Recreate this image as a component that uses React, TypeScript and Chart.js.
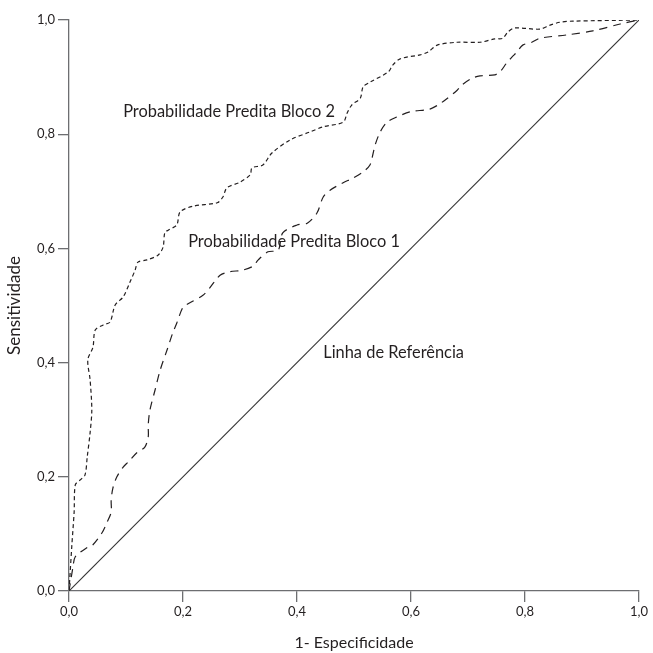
import { useEffect, useRef } from "react";
import { Chart, registerables } from "chart.js";

Chart.register(...registerables);

const tickValues = [0, 0.2, 0.4, 0.6, 0.8, 1.0];

const bloco1Fpr = [0, 0.007, 0.011, 0.033, 0.042, 0.058, 0.067, 0.074, 0.074, 0.077, 0.084, 0.095, 0.104, 0.119, 0.133, 0.139, 0.139, 0.142, 0.151, 0.16, 0.172, 0.182, 0.189, 0.2, 0.209, 0.235, 0.247, 0.265, 0.282, 0.305, 0.323, 0.332, 0.349, 0.367, 0.375, 0.4, 0.418, 0.435, 0.446, 0.458, 0.481, 0.498, 0.516, 0.528, 0.533, 0.537, 0.546, 0.558, 0.575, 0.598, 0.633, 0.647, 0.66, 0.681, 0.689, 0.707, 0.721, 0.747, 0.756, 0.768, 0.777, 0.786, 0.796, 0.812, 0.826, 0.874, 0.919, 0.967, 1.0];
const bloco1Tpr = [0, 0.042, 0.06, 0.077, 0.081, 0.102, 0.121, 0.138, 0.159, 0.18, 0.2, 0.217, 0.226, 0.242, 0.252, 0.27, 0.291, 0.317, 0.352, 0.387, 0.422, 0.452, 0.469, 0.497, 0.503, 0.518, 0.531, 0.553, 0.559, 0.562, 0.569, 0.58, 0.594, 0.597, 0.627, 0.641, 0.644, 0.662, 0.69, 0.702, 0.715, 0.723, 0.734, 0.746, 0.764, 0.781, 0.804, 0.821, 0.83, 0.839, 0.844, 0.851, 0.86, 0.877, 0.886, 0.898, 0.902, 0.904, 0.909, 0.925, 0.935, 0.944, 0.956, 0.961, 0.968, 0.974, 0.981, 0.993, 1.0];

const bloco2Fpr = [0, 0.005, 0.009, 0.011, 0.019, 0.028, 0.032, 0.037, 0.04, 0.037, 0.033, 0.042, 0.046, 0.06, 0.072, 0.081, 0.095, 0.107, 0.116, 0.121, 0.137, 0.156, 0.165, 0.168, 0.174, 0.189, 0.195, 0.218, 0.26, 0.27, 0.277, 0.3, 0.318, 0.321, 0.34, 0.356, 0.388, 0.423, 0.446, 0.481, 0.488, 0.496, 0.511, 0.516, 0.528, 0.56, 0.568, 0.581, 0.616, 0.63, 0.646, 0.681, 0.721, 0.747, 0.761, 0.77, 0.782, 0.826, 0.844, 0.861, 0.884, 1.0];
const bloco2Tpr = [0, 0.08, 0.138, 0.186, 0.194, 0.203, 0.235, 0.277, 0.317, 0.37, 0.405, 0.427, 0.457, 0.466, 0.471, 0.501, 0.515, 0.541, 0.562, 0.576, 0.58, 0.588, 0.602, 0.627, 0.632, 0.641, 0.664, 0.674, 0.68, 0.69, 0.706, 0.716, 0.729, 0.741, 0.746, 0.767, 0.79, 0.804, 0.813, 0.821, 0.837, 0.851, 0.863, 0.883, 0.891, 0.909, 0.921, 0.932, 0.939, 0.944, 0.956, 0.961, 0.961, 0.967, 0.968, 0.979, 0.986, 0.984, 0.991, 0.996, 0.998, 1.0];

const referenciaX = [0, 1];
const referenciaY = [0, 1];

const annotations = [
  { text: "Probabilidade Predita Bloco 2", x: 0.095, y: 0.839 },
  { text: "Probabilidade Predita Bloco 1", x: 0.209, y: 0.611 },
  { text: "Linha de Referência", x: 0.446, y: 0.417 },
];

const FONT = "Lato";
const TEXT = "#231f20";
const AXIS = "#6d6e71";

const toPts = (xs: number[], ys: number[]) => xs.map((x, i) => ({ x, y: ys[i] }));
const fmt = (v: number) => v.toFixed(1).replace(".", ",");

const labelPlugin = {
  id: "labels",
  afterDatasetsDraw(chart: any) {
    const { ctx, scales } = chart;
    ctx.save();
    ctx.fillStyle = TEXT;
    ctx.font = `16.4px ${FONT}`;
    ctx.textAlign = "left";
    ctx.textBaseline = "middle";
    for (const a of annotations) {
      ctx.fillText(a.text, scales.x.getPixelForValue(a.x), scales.y.getPixelForValue(a.y));
    }
    ctx.restore();
  },
};

export default function App() {
  const ref = useRef<HTMLCanvasElement | null>(null);
  useEffect(() => {
    if (!ref.current) return;
    const chart = new Chart(ref.current, {
      type: "scatter",
      data: {
        datasets: [
          {
            data: toPts(referenciaX, referenciaY),
            showLine: true,
            borderColor: "#333",
            borderWidth: 1.1,
            pointRadius: 0,
          },
          {
            data: toPts(bloco1Fpr, bloco1Tpr),
            showLine: true,
            borderColor: "#231f20",
            borderWidth: 1.2,
            borderDash: [8, 6],
            pointRadius: 0,
            tension: 0.3,
          },
          {
            data: toPts(bloco2Fpr, bloco2Tpr),
            showLine: true,
            borderColor: "#231f20",
            borderWidth: 1.2,
            borderDash: [4, 3],
            pointRadius: 0,
            tension: 0.3,
          },
        ],
      },
      options: {
        animation: false,
        responsive: false,
        maintainAspectRatio: false,
        layout: { padding: { top: 20, right: 14, left: 0, bottom: 0 } },
        plugins: { legend: { display: false }, tooltip: { enabled: false } },
        scales: {
          x: {
            type: "linear",
            min: 0,
            max: 1,
            afterFit: (s: any) => { s.height = 62; },
            afterBuildTicks: (s: any) => { s.ticks = tickValues.map((v) => ({ value: v })); },
            ticks: {
              callback: (v: any) => fmt(Number(v)),
              color: TEXT,
              font: { family: FONT, size: 13 },
              padding: 2,
              maxRotation: 0,
            },
            grid: { drawOnChartArea: false, drawTicks: true, tickLength: 11, color: AXIS, lineWidth: 1.3 },
            border: { color: AXIS, width: 1.3 },
            title: { display: true, text: "1- Especificidade", color: TEXT, font: { family: FONT, size: 16 }, padding: { bottom: 1, top: 0 } },
          },
          y: {
            type: "linear",
            min: 0,
            max: 1,
            afterFit: (s: any) => { s.width = 69; },
            afterBuildTicks: (s: any) => { s.ticks = tickValues.map((v) => ({ value: v })); },
            ticks: {
              callback: (v: any) => fmt(Number(v)),
              color: TEXT,
              font: { family: FONT, size: 13 },
              padding: 3,
            },
            grid: { drawOnChartArea: false, drawTicks: true, tickLength: 11, color: AXIS, lineWidth: 1.3 },
            border: { color: AXIS, width: 1.3 },
            title: { display: true, text: "Sensitividade", color: TEXT, font: { family: FONT, size: 17 }, padding: { top: 4, bottom: 0 } },
          },
        },
      },
      plugins: [labelPlugin],
    });
    return () => chart.destroy();
  }, []);
  return (
    <div style={{ position: "fixed", left: 0, top: 0, width: 653, height: 653, background: "#fff" }}>
      <canvas ref={ref} width={653} height={653} style={{ width: 653, height: 653, display: "block" }} />
    </div>
  );
}
